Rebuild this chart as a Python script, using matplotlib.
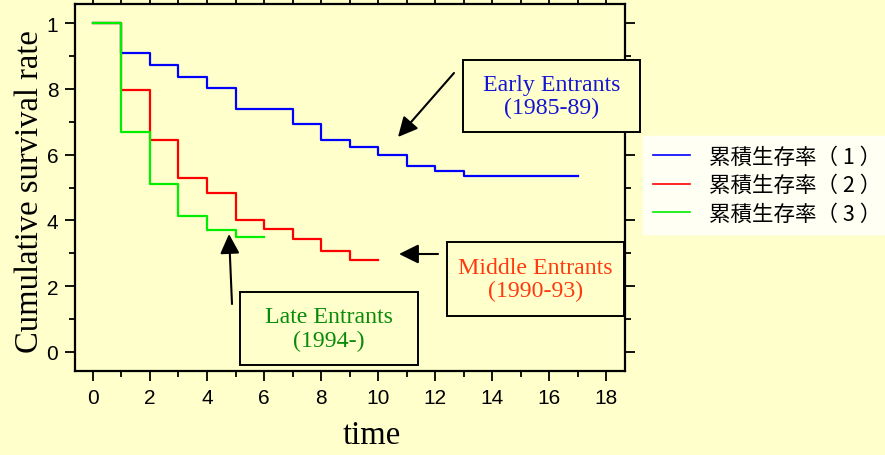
import matplotlib
matplotlib.use("Agg")
import matplotlib.pyplot as plt
from matplotlib.patches import Rectangle

# survival curves (step data)
t1 = [0, 1, 2, 3, 4, 5, 6, 7, 8, 9, 10, 11, 12, 13, 17]
s1 = [1.0, 0.908, 0.872, 0.837, 0.802, 0.739, 0.739, 0.692, 0.645, 0.622, 0.600, 0.564, 0.551, 0.535, 0.535]
t2 = [0, 1, 2, 3, 4, 5, 6, 7, 8, 9, 10]
s2 = [1.0, 0.797, 0.645, 0.528, 0.484, 0.401, 0.373, 0.343, 0.308, 0.279, 0.279]
t3 = [0, 1, 2, 3, 4, 5, 6]
s3 = [1.0, 0.669, 0.512, 0.412, 0.372, 0.349, 0.349]

legend_labels = ["累積生存率（ 1 ）", "累積生存率（ 2 ）", "累積生存率（ 3 ）"]
xticks = [0, 2, 4, 6, 8, 10, 12, 14, 16, 18]
yticks = [0, 0.2, 0.4, 0.6, 0.8, 1.0]
ytick_labels = ["0", "2", "4", "6", "8", "1"]

W, H = 885, 456
bg = "#FFFFCC"
fig = plt.figure(figsize=(W / 100, H / 100), dpi=100, facecolor=bg)
ax = fig.add_axes([75 / W, 1 - 372 / H, 550 / W, 367 / H], facecolor=bg)

ax.plot(t1, s1, drawstyle="steps-post", color="#0000FF", lw=1.6, label=legend_labels[0])
ax.plot(t2, s2, drawstyle="steps-post", color="#FF0000", lw=1.6, label=legend_labels[1])
ax.plot(t3, s3, drawstyle="steps-post", color="#00EE00", lw=1.6, label=legend_labels[2])

ax.set_xlim(-0.63, 18.66)
ax.set_ylim(-0.058, 1.058)
ax.set_xticks(xticks)
ax.set_xticks(range(0, 19), minor=True)
ax.set_yticks(yticks)
ax.set_yticklabels(ytick_labels)
ax.set_yticks([i / 10 for i in range(11)], minor=True)
for s in ax.spines.values():
    s.set_linewidth(1.6)
ax.tick_params(which="both", direction="out", top=True, right=True, width=1.3,
               labelsize=15, pad=5)
ax.tick_params(which="major", length=7)
ax.tick_params(which="minor", length=4.5)
for lab in ax.get_xticklabels() + ax.get_yticklabels():
    lab.set_family("Liberation Sans")

def px(x, y):
    return (x / W, 1 - y / H)

fig.text(*px(30, 192), "Cumulative survival rate", rotation=90, ha="center", va="center",
         family="Liberation Serif", fontsize=23.5)
fig.text(*px(372, 436), "time", ha="center", va="center",
         family="Liberation Serif", fontsize=23.5)

# annotation boxes
boxes = [
    ((463, 61, 640, 133), "Early Entrants\n(1985-89)", "#1414D2"),
    ((447, 243, 624, 317), "Middle Entrants\n(1990-93)", "#FF3A10"),
    ((240, 293, 418, 366), "Late Entrants\n(1994-)", "#0A8A0A"),
]
for (x0, y0, x1, y1), txt, col in boxes:
    fig.patches.append(Rectangle(px(x0, y1), (x1 - x0) / W, (y1 - y0) / H,
                                 transform=fig.transFigure, facecolor=bg,
                                 edgecolor="black", lw=1.4, zorder=3))
    fig.text(*px((x0 + x1) / 2, (y0 + y1) / 2), txt, ha="center", va="center",
             color=col, family="Liberation Serif", fontsize=17.2, linespacing=1.15, zorder=4)

arrows = [((454, 74), (398, 138)), ((438, 255), (399, 255)), ((232, 305), (229, 235))]
for tail, head in arrows:
    fig.add_artist(matplotlib.patches.FancyArrowPatch(
        px(*tail), px(*head), transform=fig.transFigure,
        arrowstyle="-|>,head_length=0.85,head_width=0.42", mutation_scale=14,
        color="black", lw=1.5, shrinkA=0, shrinkB=0))

leg = fig.legend(loc="upper left", bbox_to_anchor=px(643, 137), frameon=True,
                 fancybox=False, handlelength=1.75, handletextpad=0.85,
                 labelspacing=0.3, borderaxespad=0, borderpad=0.45,
                 prop={"family": ["Noto Sans CJK JP", "DejaVu Sans"], "size": 15.5})
leg.get_frame().set_facecolor("white")
leg.get_frame().set_edgecolor("white")
for line in leg.get_lines():
    line.set_linewidth(1.2)

fig.savefig("out.png", dpi=100, facecolor=bg)
